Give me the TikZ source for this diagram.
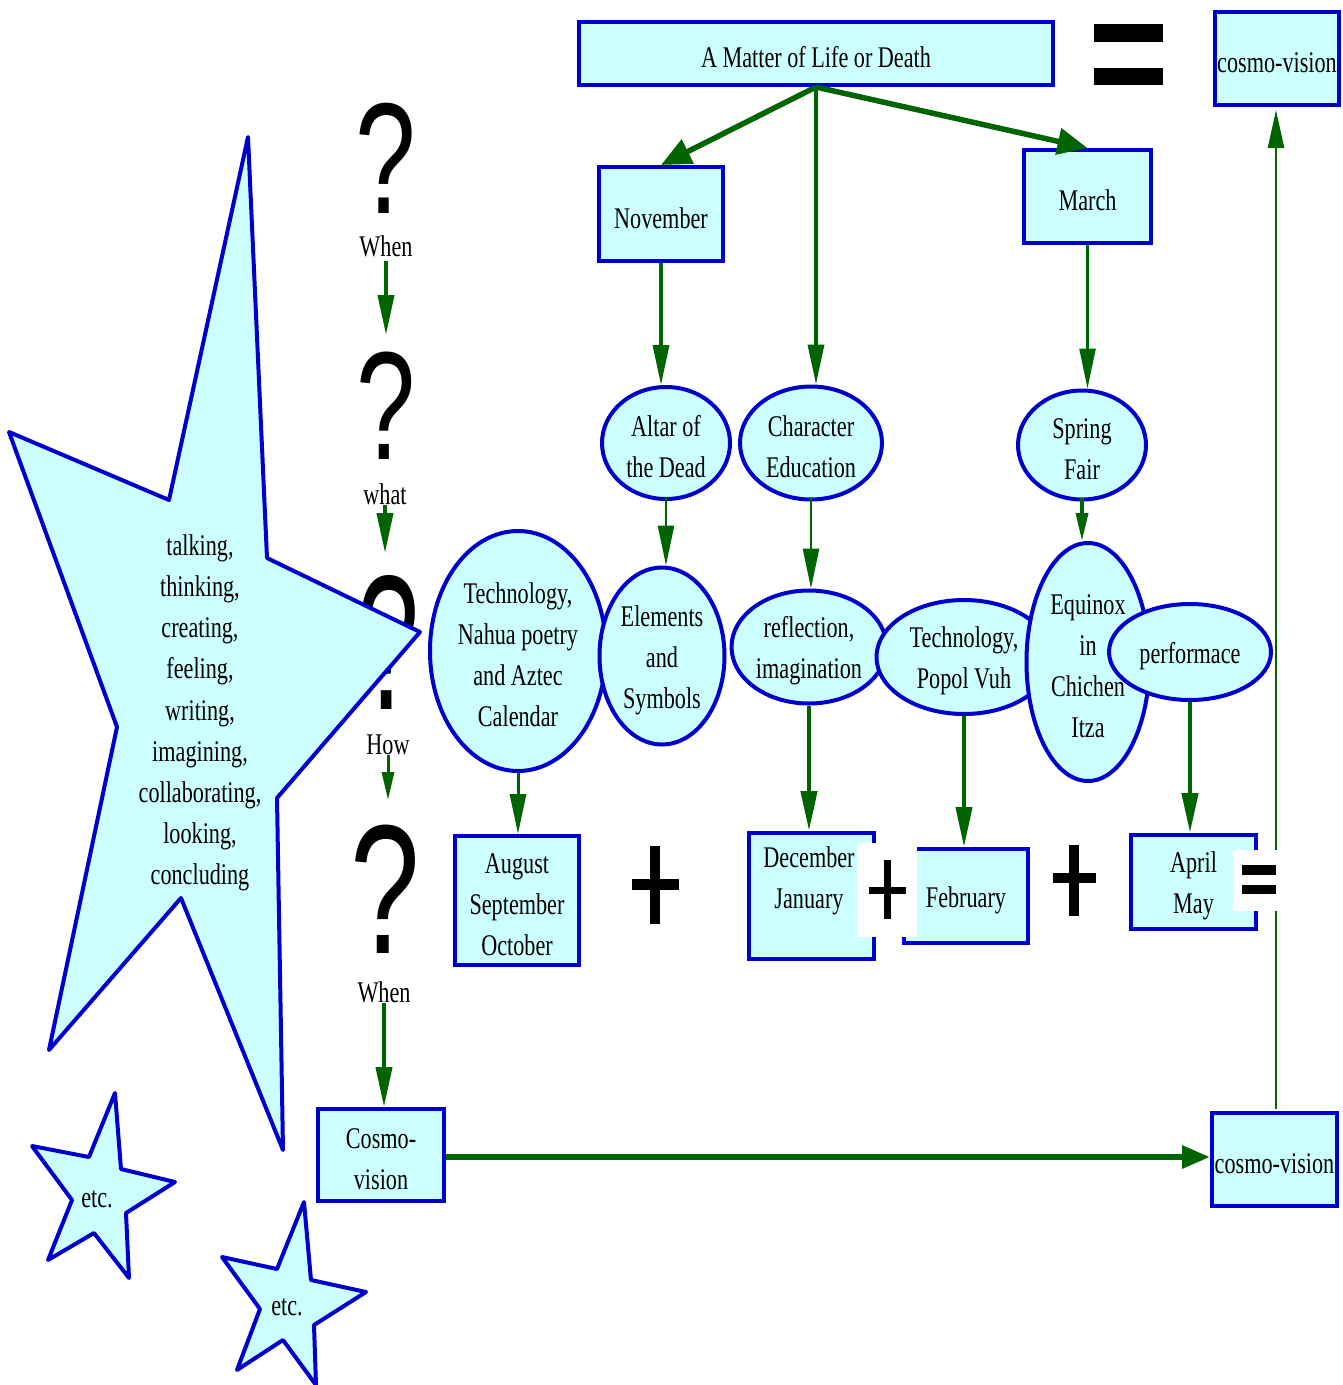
\documentclass[tikz,border=0pt]{standalone}
\usepackage{fontspec}
\setmainfont{Liberation Serif}[FakeStretch=0.74]
\newfontfamily\qfont{Liberation Sans}
\usetikzlibrary{shapes.geometric,arrows.meta}
\definecolor{cfill}{RGB}{204,255,255}
\definecolor{cblue}{RGB}{0,0,205}
\definecolor{cgreen}{RGB}{0,100,0}
\newcommand{\topft}{\rule{0pt}{28.5pt}}
\tikzset{
  txt/.style={font=\fontsize{30}{41}\selectfont, align=center, inner sep=0pt},
  box/.style={txt, draw=cblue, fill=cfill, line width=4pt, rectangle},
  ell/.style={box, ellipse},
  starsh/.style={draw=cblue, fill=cfill, line width=4pt, line join=round},
  qm/.style={inner sep=0pt},
  garrow/.style={draw=cgreen, line width=#1, -{Triangle[length=40pt,width=16pt]}},
  garrow/.default=3pt,
  sarrow/.style={draw=cgreen, line width=#1, -{Triangle[length=28pt,width=12pt]}},
  sarrow/.default=3pt,
  tarrow/.style={draw=cgreen, line width=5.5pt, -{Triangle[length=30pt,width=26pt]}},
  blackbar/.style={fill=black},
  whitepatch/.style={fill=white}
}
\begin{document}
\begin{tikzpicture}[x=1pt,y=-1pt]
\useasboundingbox[fill=white] (0,0) rectangle (1343,1385);

% question marks and labels
\node[qm] (q1) at (386,158) {\scalebox{0.69}[1]{\qfont\fontsize{158}{158}\selectfont ?}};
\node[txt] (l1) at (386,246) {When};
\node[qm] (q2) at (386,406) {\scalebox{0.69}[1]{\qfont\fontsize{154}{154}\selectfont ?}};
\node[txt] (l2) at (385,494) {what};
\node[qm] (q3) at (388,642) {\scalebox{0.58}[1]{\qfont\fontsize{192}{192}\selectfont ?}};
\node[txt] (l3) at (388,745) {How};
\node[qm] (q4) at (385,889) {\scalebox{0.68}[1]{\qfont\fontsize{184}{184}\selectfont ?}};
\node[txt] (l4) at (384,992) {When};

% big star
\draw[starsh] (248,137) -- (267,558) -- (420,632) -- (277,798) -- (283,1150) -- (181,898) -- (49,1050) -- (117,727) -- (9,432) -- (169,500) -- cycle;
\node[txt, font=\fontsize{30}{41.2}\selectfont] (startext) at (200,713) {talking,\\thinking,\\creating,\\feeling,\\writing,\\imagining,\\collaborating,\\looking,\\concluding};

% small stars
\draw[starsh] (115,1093) -- (121,1169) -- (175,1182) -- (126,1213) -- (129,1278) -- (94,1233) -- (48,1260) -- (72,1200) -- (32,1146) -- (89,1157) -- cycle;
\node[txt] (etc1) at (97,1199) {etc.};
\draw[starsh] (304,1202) -- (311,1280) -- (366,1292) -- (314,1325) -- (316,1385) -- (283,1340) -- (237,1370) -- (260,1309) -- (222,1257) -- (277,1269) -- cycle;
\node[txt] (etc2) at (287,1307) {etc.};

% top row
\node[box, minimum width=474pt, minimum height=63pt] (title) at (816,53.5) {\topft A Matter of Life or Death};
\fill[blackbar] (1094,24) rectangle (1163,42);
\fill[blackbar] (1094,68) rectangle (1163,85);
\node[box, minimum width=124pt, minimum height=93pt] (cosmoT) at (1277,58.5) {\topft cosmo-vision};

\node[box, minimum width=124pt, minimum height=94pt] (nov) at (661,214) {\topft November};
\node[box, minimum width=127pt, minimum height=93pt] (mar) at (1087.5,196.5) {\topft March};

% ellipses row 1
\node[ell, minimum width=128pt, minimum height=112pt] (altar) at (666,443) {\topft Altar of\\the Dead};
\node[ell, minimum width=142pt, minimum height=113pt] (charac) at (811,443) {\topft Character\\Education};
\node[ell, minimum width=128pt, minimum height=109pt] (spring) at (1082,445) {\topft Spring\\Fair};

% ellipses row 2
\node[ell, minimum width=176pt, minimum height=240pt] (nahua) at (518,651) {\topft Technology,\\Nahua poetry\\and Aztec\\Calendar};
\node[ell, minimum width=125pt, minimum height=177pt] (elem) at (662,656) {\topft Elements\\and\\Symbols};
\node[ell, minimum width=155pt, minimum height=113pt] (refl) at (809,647) {\topft reflection,\\imagination};
\node[ell, minimum width=175pt, minimum height=114pt] (popol) at (964,657) {\topft Technology,\\Popol Vuh};
\node[ell, minimum width=123pt, minimum height=238pt] (equinox) at (1088,662) {\topft Equinox\\in\\Chichen\\Itza};
\node[ell, minimum width=162pt, minimum height=96pt] (perf) at (1190,652) {\topft performace};

% month boxes
\node[box, minimum width=124pt, minimum height=129pt] (aug) at (517,900.5) {\topft August\\September\\October};
\node[box, minimum width=125pt, minimum height=126pt] (dec) at (811.5,896) {};
\node[txt] (dectext) at (809,881) {December\\January};
\node[box, minimum width=124pt, minimum height=94pt] (feb) at (966,896) {\topft February};
\node[box, minimum width=125pt, minimum height=94pt] (apr) at (1193.5,882) {\topft April\\May};

% bottom boxes
\node[box, minimum width=126pt, minimum height=92pt] (cosmoL) at (381,1155) {\topft Cosmo-\\vision};
\node[box, minimum width=125pt, minimum height=93pt] (cosmoB) at (1274.5,1159.5) {\topft cosmo-vision};

% connectors
\draw[tarrow] (title.south) -- (nov.north);
\draw[tarrow] (title.south) -- (mar.north);
\draw[garrow=3.5pt] (title.south) -- (title.south |- charac.north);
\draw[garrow=3.5pt] (nov.south) -- (nov.south |- altar.north);
\draw[garrow=2.5pt] (mar.south) -- (mar.south |- spring.north);
\draw[garrow=2.5pt] ([yshift=4pt]altar.south) -- (altar.south |- elem.north);
\draw[garrow=2.5pt] ([yshift=4pt]charac.south) -- (charac.south |- refl.north);
\draw[sarrow=3.5pt] ([yshift=4pt]spring.south) -- (spring.south |- equinox.north);
\draw[garrow=3pt] (nahua.south) -- (nahua.south |- aug.north);
\draw[garrow=4.5pt] (refl.south) -- (refl.south |- dec.north);
\draw[garrow=4pt] (popol.south) -- (popol.south |- feb.north);
\draw[garrow=4.5pt] (perf.south) -- (perf.south |- apr.north);

\coordinate (t2) at (386,335);
\coordinate (t3) at (385,553);
\coordinate (t4) at (388,800);
\draw[garrow=4pt] ([yshift=-4pt]l1.south) -- (t2);
\draw[garrow=4pt] (l2) -- (t3);
\draw[sarrow=3pt] (l3) -- (t4);
\draw[garrow=4pt] (l4) -- (l4.south |- cosmoL.north);

\draw[draw=cgreen, line width=6pt, -{Triangle[length=28pt,width=22pt]}] (cosmoL.east |- 0,1157) -- (cosmoB.west |- 0,1157);
\draw[draw=cgreen, line width=2.5pt, -{Triangle[length=38pt,width=16pt]}] (1276,1109) -- (1276,110);

% plus and equal signs
\fill[blackbar] (632,879) rectangle (679,890);
\fill[blackbar] (650,846) rectangle (660,924);
\fill[whitepatch] (857,843) rectangle (917,937);
\fill[blackbar] (869,887) rectangle (906,894);
\fill[blackbar] (884,860) rectangle (891,919);
\fill[blackbar] (1053,873) rectangle (1096,883);
\fill[blackbar] (1069,845) rectangle (1079,916);
\fill[whitepatch] (1233,850) rectangle (1278,911);
\fill[blackbar] (1242,865) rectangle (1276,875);
\fill[blackbar] (1242,885) rectangle (1276,894);
\end{tikzpicture}
\end{document}
